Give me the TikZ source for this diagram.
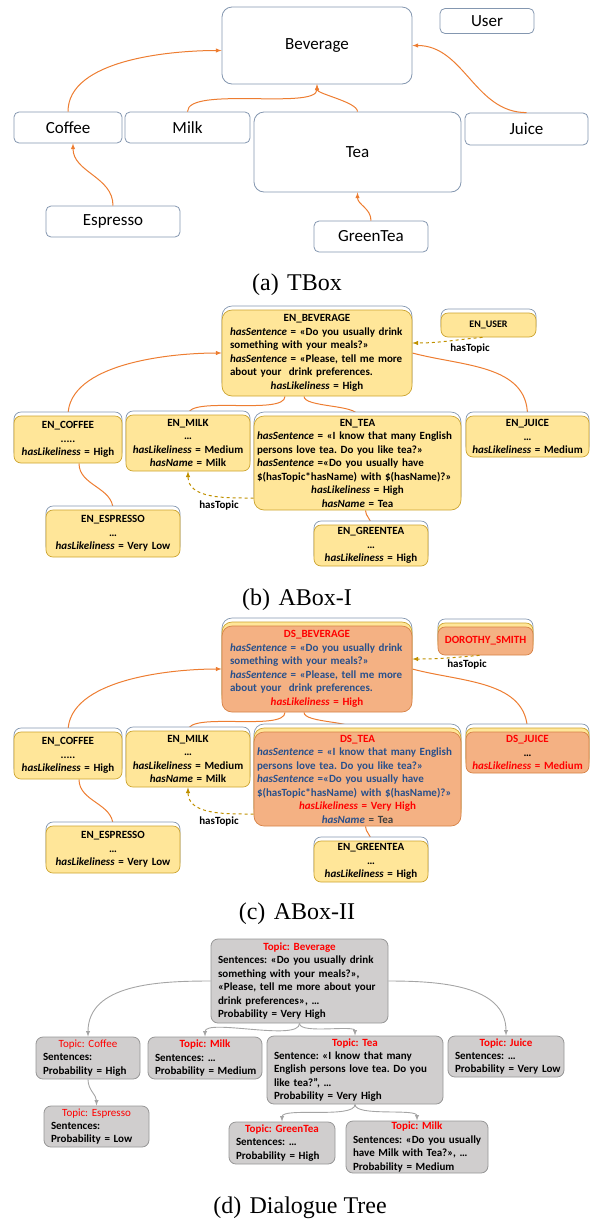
\documentclass[tikz,border=0pt]{standalone}
\usepackage{fontspec}
\setmainfont{Carlito}
\newfontfamily\capfont{Liberation Serif}
\usepackage{xcolor}
\usepackage{tikz}
\usetikzlibrary{calc,positioning,backgrounds}
\frenchspacing

\definecolor{tline}{RGB}{132,151,176}
\definecolor{conn}{RGB}{237,125,49}
\definecolor{ylw}{RGB}{255,230,153}
\definecolor{ylwline}{RGB}{204,164,48}
\definecolor{dsfill}{RGB}{244,177,131}
\definecolor{dsline}{RGB}{214,130,70}
\definecolor{dsblue}{RGB}{40,80,140}
\definecolor{dsred}{RGB}{255,0,0}
\definecolor{topicc}{RGB}{191,144,0}
\definecolor{dtfill}{RGB}{208,206,206}
\definecolor{dtline}{RGB}{150,150,150}
\definecolor{treec}{RGB}{165,165,165}

\newcommand{\lline}[1]{\makebox[\hsize][l]{#1}}
\newcommand{\hasS}{\textit{hasSentence}}
\newcommand{\hasL}{\textit{hasLikeliness}}
\newcommand{\hasN}{\textit{hasName}}

\tikzset{
  tbox/.style={draw=tline, line width=0.8pt, rounded corners=5pt, fill=white,
    font=\fontsize{17}{20}\selectfont, inner sep=0pt},
  enbox/.style={draw=ylwline, line width=0.7pt, fill=ylw, rounded corners=7pt,
    font=\fontsize{11}{13.5}\selectfont\bfseries, align=center, inner xsep=4pt, inner ysep=0pt,
    preaction={draw=tline, fill=white, transform canvas={yshift=4pt}}},
  dsbox/.style={draw=dsline, line width=0.7pt, fill=dsfill, rounded corners=7pt,
    font=\fontsize{11}{13.5}\selectfont\bfseries, text=dsblue, align=center, inner xsep=4pt, inner ysep=0pt,
    preaction={draw=tline, fill=white, transform canvas={yshift=8pt}},
    preaction={draw=ylwline, fill=ylw, transform canvas={yshift=4pt}}},
  dtbox/.style={draw=dtline, line width=0.8pt, fill=dtfill, rounded corners=7pt,
    font=\fontsize{11}{13.4}\selectfont\bfseries, align=center, inner xsep=7pt, inner ysep=0pt},
  isa/.style={draw=conn, line width=1pt},
  hastopic/.style={draw=topicc, line width=1pt, dashed, -latex},
  treeline/.style={draw=treec, line width=0.9pt, -latex},
  lbl/.style={font=\fontsize{11}{13}\selectfont\bfseries},
  caption/.style={font=\capfont\fontsize{24}{28}\selectfont},
}

\begin{document}
\begin{tikzpicture}[x=1pt,y=1pt]
\useasboundingbox (0,0) rectangle (590,-1224);

% (a) TBox
\node[tbox, rounded corners=10pt, minimum width=190pt, minimum height=77pt] (beverage) at (317,-45.5) {Beverage};
\node[tbox, minimum width=94pt, minimum height=25pt] (user) at (487,-21) {User};
\node[tbox, minimum width=108pt, minimum height=31pt] (coffee) at (68,-127.5) {Coffee};
\node[tbox, minimum width=125pt, minimum height=31pt] (milk) at (187.5,-127.5) {Milk};
\node[tbox, rounded corners=10pt, minimum width=207pt, minimum height=80pt] (tea) at (357.5,-152) {Tea};
\node[tbox, minimum width=123pt, minimum height=32pt] (juice) at (526.5,-129) {Juice};
\node[tbox, minimum width=134pt, minimum height=31pt] (espresso) at (113,-221.5) {Espresso};
\node[tbox, minimum width=114pt, minimum height=31pt] (greentea) at (371,-236.5) {GreenTea};
\node[caption] (capa) at (297,-285) {(a)\hspace{0.35em}TBox};

\draw[isa,-latex] (coffee.north) to[out=90,in=180,looseness=0.8] ($(beverage.west)+(0,-5)$);
\draw[isa,-latex] (milk.north) to[out=90,in=-90,looseness=0.5] (beverage.south);
\draw[isa,-latex] (tea.north) to[out=90,in=-90,looseness=0.5] (beverage.south);
\draw[isa,-latex] (juice.north) to[out=180,in=0] (beverage.east);
\draw[isa,-latex] (espresso.north) to[out=90,in=-90] ($(coffee.south)+(5,0)$);
\draw[isa,-latex] (greentea.north) to[out=90,in=-90] (tea.south);

% (b) ABox-I
\node[enbox, rounded corners=10pt, minimum width=190pt, minimum height=86pt, inner xsep=8pt, text width=174pt] (enbev) at (317,-353) {EN\_BEVERAGE\\
  \lline{\hasS{} = «Do you usually drink}\\
  \lline{something with your meals?»}\\
  \lline{\hasS{} = «Please, tell me more}\\
  \lline{about your\ \ drink preferences.}\\
  \hasL{} = High};
\node[enbox, font=\fontsize{10}{12}\selectfont\bfseries, minimum width=95pt, minimum height=24pt] (enuser) at (488.5,-325) {EN\_USER};
\node[enbox, minimum width=108pt, minimum height=47pt, text width=100pt] (encoffee) at (68,-439.5) {EN\_COFFEE\\.....\\\hasL{} = High};
\node[enbox, minimum width=124pt, minimum height=56pt, text width=116pt] (enmilk) at (188,-443) {EN\_MILK\\…\\\hasL{} = Medium\\\hasN{} = Milk};
\node[enbox, rounded corners=10pt, minimum width=207pt, minimum height=94pt, inner xsep=3pt, text width=201pt] (entea) at (357.5,-463) {EN\_TEA\\
  \lline{\hasS{} = «I know that many English}\\
  \lline{persons love tea. Do you like tea?»}\\
  \lline{\hasS{} =«Do you usually have}\\
  \lline{\$(hasTopic*hasName) with \$(hasName)?»}\\
  \hasL{} = High\\
  \hasN{} = Tea};
\node[enbox, minimum width=123pt, minimum height=41pt, text width=115pt] (enjuice) at (527.5,-436.5) {EN\_JUICE\\…\\\hasL{} = Medium};
\node[enbox, minimum width=134pt, minimum height=47pt, text width=126pt] (enesp) at (113,-533.5) {EN\_ESPRESSO\\…\\\hasL{} = Very Low};
\node[enbox, minimum width=114pt, minimum height=41pt, text width=106pt] (engt) at (371,-545.5) {EN\_GREENTEA\\…\\\hasL{} = High};
\node[lbl] (topicb1) at (470,-348) {hasTopic};
\node[lbl] (topicb2) at (219,-505) {hasTopic};
\node[caption] (capb) at (297,-600) {(b)\hspace{0.35em}ABox-I};

\begin{scope}[on background layer]
\draw[isa,-latex] (encoffee.north) to[out=90,in=180,looseness=0.8] (enbev.west);
\draw[isa] ($(enbev.south)+(-32,0)$) to[out=-90,in=90,looseness=0.5] (enmilk.north);
\draw[isa] ($(enbev.south)+(-13,0)$) to[out=-90,in=90,looseness=0.5] (entea.north);
\draw[isa] (enbev.east) to[out=-15,in=90] (enjuice.north);
\draw[isa] ($(encoffee.south)+(11,0)$) to[out=-90,in=90] (enesp.north);
\draw[isa] ($(entea.south)+(8,0)$) to[out=-90,in=90] (engt.north);
\end{scope}
\draw[hastopic] ($(enuser.south)+(-6,0)$) to[out=185,in=0] ($(enbev.east)+(0,10)$);
\draw[hastopic] ($(entea.west)+(0,-35)$) to[out=180,in=-90] (enmilk.south);

% (c) ABox-II
\node[dsbox, rounded corners=10pt, minimum width=190pt, minimum height=86pt, inner xsep=8pt, text width=174pt] (dsbev) at (317,-669) {\textcolor{dsred}{DS\_BEVERAGE}\\
  \lline{\hasS{} = «Do you usually drink}\\
  \lline{something with your meals?»}\\
  \lline{\hasS{} = «Please, tell me more}\\
  \lline{about your\ \ drink preferences.}\\
  \textcolor{dsred}{\hasL{} = High}};
\node[dsbox, text=dsred, minimum width=95pt, minimum height=28pt] (dsuser) at (485.5,-641) {DOROTHY\_SMITH};
\node[enbox, minimum width=108pt, minimum height=47pt, text width=100pt] (ccoffee) at (68,-755.5) {EN\_COFFEE\\.....\\\hasL{} = High};
\node[enbox, minimum width=124pt, minimum height=56pt, text width=116pt] (cmilk) at (188,-759) {EN\_MILK\\…\\\hasL{} = Medium\\\hasN{} = Milk};
\node[dsbox, rounded corners=10pt, minimum width=207pt, minimum height=94pt, inner xsep=3pt, text width=201pt] (dstea) at (357.5,-779) {\textcolor{dsred}{DS\_TEA}\\
  \lline{\hasS{} = «I know that many English}\\
  \lline{persons love tea. Do you like tea?»}\\
  \lline{\hasS{} =«Do you usually have}\\
  \lline{\$(hasTopic*hasName) with \$(hasName)?»}\\
  \textcolor{dsred}{\hasL{} = Very High}\\
  \hasN{} \textcolor{black!75}{= Tea}};
\node[dsbox, minimum width=123pt, minimum height=41pt, text width=115pt] (dsjuice) at (527.5,-752.5) {\textcolor{dsred}{DS\_JUICE}\\\textcolor{black}{…}\\\textcolor{dsred}{\hasL{} = Medium}};
\node[enbox, minimum width=134pt, minimum height=47pt, text width=126pt] (cesp) at (113,-849.5) {EN\_ESPRESSO\\…\\\hasL{} = Very Low};
\node[enbox, minimum width=114pt, minimum height=41pt, text width=106pt] (cgt) at (371,-861.5) {EN\_GREENTEA\\…\\\hasL{} = High};
\node[lbl] (topicc1) at (467,-664) {hasTopic};
\node[lbl] (topicc2) at (219,-821) {hasTopic};
\node[caption] (capc) at (297,-914) {(c)\hspace{0.35em}ABox-II};

\begin{scope}[on background layer]
\draw[isa,-latex] (ccoffee.north) to[out=90,in=180,looseness=0.8] (dsbev.west);
\draw[isa] ($(dsbev.south)+(-32,0)$) to[out=-90,in=90,looseness=0.5] (cmilk.north);
\draw[isa] ($(dsbev.south)+(-13,0)$) to[out=-90,in=90,looseness=0.5] (dstea.north);
\draw[isa] (dsbev.east) to[out=-15,in=90] (dsjuice.north);
\draw[isa] ($(ccoffee.south)+(11,0)$) to[out=-90,in=90] (cesp.north);
\draw[isa] ($(dstea.south)+(8,0)$) to[out=-90,in=90] (cgt.north);
\end{scope}
\draw[hastopic] ($(dsuser.south)+(-6,0)$) to[out=185,in=0] ($(dsbev.east)+(0,10)$);
\draw[hastopic] ($(dstea.west)+(0,-35)$) to[out=180,in=-90] (cmilk.south);

% (d) Dialogue Tree
\node[dtbox, minimum width=177pt, minimum height=84pt, text width=163pt] (dtbev) at (299.5,-981) {\textcolor{dsred}{Topic: Beverage}\\
  \lline{Sentences: «Do you usually drink}\\
  \lline{something with your meals?»,}\\
  \lline{«Please, tell me more about your}\\
  \lline{drink preferences», …}\\
  \lline{Probability = Very High}};
\node[dtbox, minimum width=104pt, minimum height=42pt, text width=90pt] (dtcoffee) at (88,-1058) {\textcolor{dsred}{\mdseries Topic: Coffee}\\
  \lline{Sentences:}\\\lline{Probability = High}};
\node[dtbox, minimum width=114pt, minimum height=42pt, text width=100pt] (dtmilk) at (205,-1058) {\textcolor{dsred}{Topic: Milk}\\
  \lline{Sentences: …}\\\lline{Probability = Medium}};
\node[dtbox, minimum width=176pt, minimum height=68pt, text width=162pt] (dttea) at (355,-1070) {\textcolor{dsred}{Topic: Tea}\\
  \lline{Sentence: «I know that many}\\
  \lline{English persons love tea. Do you}\\
  \lline{like tea?”, …}\\
  \lline{Probability = Very High}};
\node[dtbox, minimum width=116pt, minimum height=41pt, text width=102pt] (dtjuice) at (506,-1056.5) {\textcolor{dsred}{Topic: Juice}\\
  \lline{Sentences: …}\\\lline{Probability = Very Low}};
\node[dtbox, minimum width=105pt, minimum height=41pt, text width=91pt] (dtesp) at (96.5,-1126.5) {\textcolor{dsred}{\mdseries Topic: Espresso}\\
  \lline{Sentences:}\\\lline{Probability = Low}};
\node[dtbox, minimum width=106pt, minimum height=42pt, text width=92pt] (dtgt) at (282,-1143) {\textcolor{dsred}{Topic: GreenTea}\\
  \lline{Sentences: …}\\\lline{Probability = High}};
\node[dtbox, minimum width=142pt, minimum height=52pt, text width=128pt] (dtmilkb) at (417,-1147) {\textcolor{dsred}{Topic: Milk}\\
  \lline{Sentences: «Do you usually}\\
  \lline{have Milk with Tea?», …}\\
  \lline{Probability = Medium}};
\node[caption] (capd) at (300,-1208) {(d)\hspace{0.35em}Dialogue Tree};

\draw[treeline] (dtbev.west) to[out=180,in=90] (dtcoffee.north);
\draw[treeline] (dtbev.east) to[out=0,in=90] (dtjuice.north);
\draw[treeline] (dtbev.south) to[out=-90,in=90,looseness=0.5] (dtmilk.north);
\draw[treeline] (dtbev.south) to[out=-90,in=90,looseness=0.5] (dttea.north);
\draw[treeline] (dtcoffee.south) to[out=-90,in=90] (dtesp.north);
\draw[treeline] (dttea.south) to[out=-90,in=90,looseness=0.5] (dtgt.north);
\draw[treeline] (dttea.south) to[out=-90,in=90,looseness=0.5] (dtmilkb.north);
\end{tikzpicture}
\end{document}
